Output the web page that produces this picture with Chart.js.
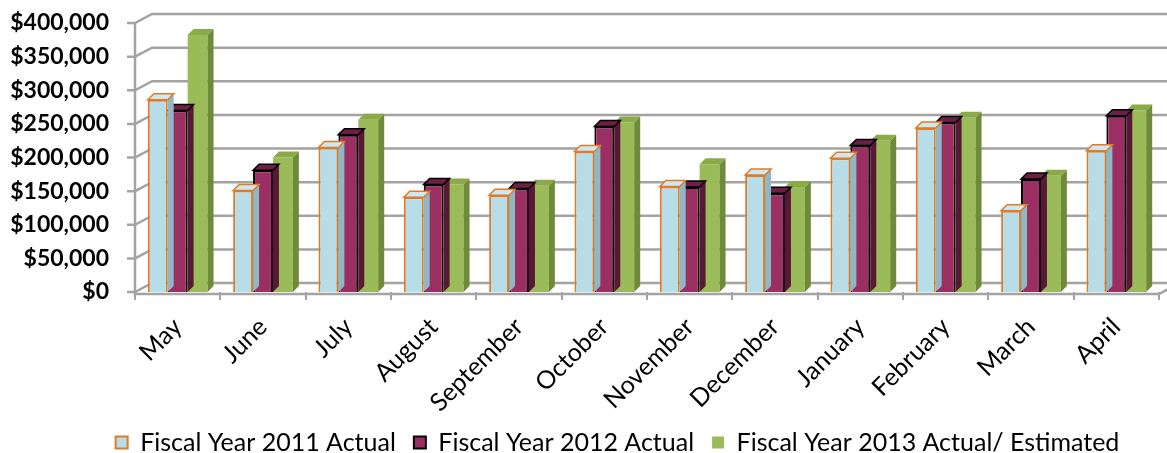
<!DOCTYPE html>
<html>
<head>
<meta charset="utf-8">
<script src="https://cdn.jsdelivr.net/npm/chart.js@4.4.1/dist/chart.umd.min.js"></script>
<style>
  html, body { margin: 0; padding: 0; background: #fff; }
  #wrap { width: 1167px; height: 453px; position: relative; }
</style>
</head>
<body>
<div id="wrap"><canvas id="chart1"></canvas></div>
<script>
const months = ['May', 'June', 'July', 'August', 'September', 'October', 'November', 'December', 'January', 'February', 'March', 'April'];
const fy2011 = [286000, 151000, 215000, 141000, 144000, 209000, 157000, 174000, 199000, 244000, 121000, 210000];
const fy2012 = [270000, 181000, 234000, 160000, 154000, 246000, 156000, 147000, 218000, 252000, 168000, 262000];
const fy2013 = [382000, 200000, 256000, 160000, 158000, 252000, 190000, 156000, 225000, 259000, 173000, 270000];
const yTicks = [0, 50000, 100000, 150000, 200000, 250000, 300000, 350000, 400000];

// depth of the fake 3D walls and bars
const WALL_DX = 17, WALL_DY = 9;
const BAR_DX = 6, BAR_DY = 6;
const GRID = '#a3a3a3';

const faces = [
    { top: '#cfe8ef', side: '#8fb8c4', edge: '#e07b28' },
    { top: '#6e1f45', side: '#5a1838', edge: '#000000' },
    { top: '#8aab48', side: '#6f8a38', edge: null }
];

const wallPlugin = {
    id: 'walls',
    afterLayout(chart) {
        // legend sits a bit right of the canvas centre in the original
        chart.legend.left += 38;
        chart.legend.right += 38;
    },
    beforeDatasetsDraw(chart) {
        const { ctx, chartArea: { left, right, bottom }, scales: { y } } = chart;
        ctx.save();
        ctx.strokeStyle = GRID;
        ctx.lineWidth = 2.5;
        yTicks.forEach(v => {
            const py = y.getPixelForValue(v);
            ctx.beginPath();
            ctx.moveTo(left - 8, py);
            ctx.lineTo(left, py);
            ctx.lineTo(left + WALL_DX, py - WALL_DY);
            ctx.lineTo(right + WALL_DX, py - WALL_DY);
            ctx.stroke();
        });
        // front axis + floor edge
        ctx.beginPath();
        ctx.moveTo(left, y.getPixelForValue(400000));
        ctx.lineTo(left, bottom + 2);
        ctx.lineTo(right, bottom + 2);
        ctx.lineTo(right + WALL_DX, bottom + 2 - WALL_DY);
        ctx.stroke();
        ctx.restore();
    },
    afterDatasetDraw(chart, args) {
        const { ctx } = chart;
        const f = faces[args.index];
        const meta = chart.getDatasetMeta(args.index);
        ctx.save();
        meta.data.forEach(bar => {
            const l = bar.x - bar.width / 2, r = bar.x + bar.width / 2;
            // side face
            ctx.fillStyle = f.side;
            ctx.beginPath();
            ctx.moveTo(r, bar.y);
            ctx.lineTo(r + BAR_DX, bar.y - BAR_DY);
            ctx.lineTo(r + BAR_DX, bar.base - BAR_DY);
            ctx.lineTo(r, bar.base);
            ctx.closePath();
            ctx.fill();
            // top face
            ctx.fillStyle = f.top;
            ctx.beginPath();
            ctx.moveTo(l, bar.y);
            ctx.lineTo(l + BAR_DX, bar.y - BAR_DY);
            ctx.lineTo(r + BAR_DX, bar.y - BAR_DY);
            ctx.lineTo(r, bar.y);
            ctx.closePath();
            ctx.fill();
            if (f.edge) {
                ctx.strokeStyle = f.edge;
                ctx.lineWidth = 1.5;
                ctx.stroke();
            }
        });
        ctx.restore();
    }
};

new Chart(document.getElementById('chart1'), {
    type: 'bar',
    data: {
        labels: months,
        datasets: [
            {
                label: 'Fiscal Year 2011 Actual',
                data: fy2011,
                backgroundColor: '#b7dee8',
                borderColor: '#e07b28',
                borderWidth: 2
            },
            {
                label: 'Fiscal Year 2012 Actual',
                data: fy2012,
                backgroundColor: '#9b2f63',
                borderColor: '#000000',
                borderWidth: 2
            },
            {
                label: 'Fiscal Year 2013 Actual/ Estimated',
                data: fy2013,
                backgroundColor: '#9bbb59',
                borderWidth: 0
            }
        ]
    },
    options: {
        responsive: true,
        maintainAspectRatio: false,
        animation: false,
        layout: { padding: { top: 23, right: 8, bottom: -12 } },
        datasets: { bar: { categoryPercentage: 0.7, barPercentage: 1 } },
        plugins: {
            tooltip: { enabled: false },
            legend: {
                position: 'bottom',
                labels: {
                    color: '#000',
                    boxWidth: 12,
                    boxHeight: 12,
                    padding: 18,
                    font: { family: 'Lato', size: 25 }
                }
            }
        },
        scales: {
            x: {
                afterFit: scale => { scale.height = 120; },
                grid: { display: true, drawOnChartArea: false, color: GRID, lineWidth: 2, tickLength: 8 },
                border: { display: false },
                ticks: {
                    color: '#000',
                    maxRotation: 45,
                    minRotation: 45,
                    padding: 12,
                    font: { family: 'Lato', size: 25 }
                }
            },
            y: {
                min: 0,
                max: 400000,
                afterFit: scale => { scale.width = 135; scale.paddingTop = 0; scale.paddingBottom = 0; },
                grid: { display: false, drawTicks: false },
                border: { display: false },
                ticks: {
                    stepSize: 50000,
                    padding: 26,
                    color: '#000',
                    font: { family: 'Lato', size: 23, weight: 'bold' },
                    callback: value => '$' + value.toLocaleString('en-US')
                }
            }
        }
    },
    plugins: [wallPlugin]
});
</script>
</body>
</html>
